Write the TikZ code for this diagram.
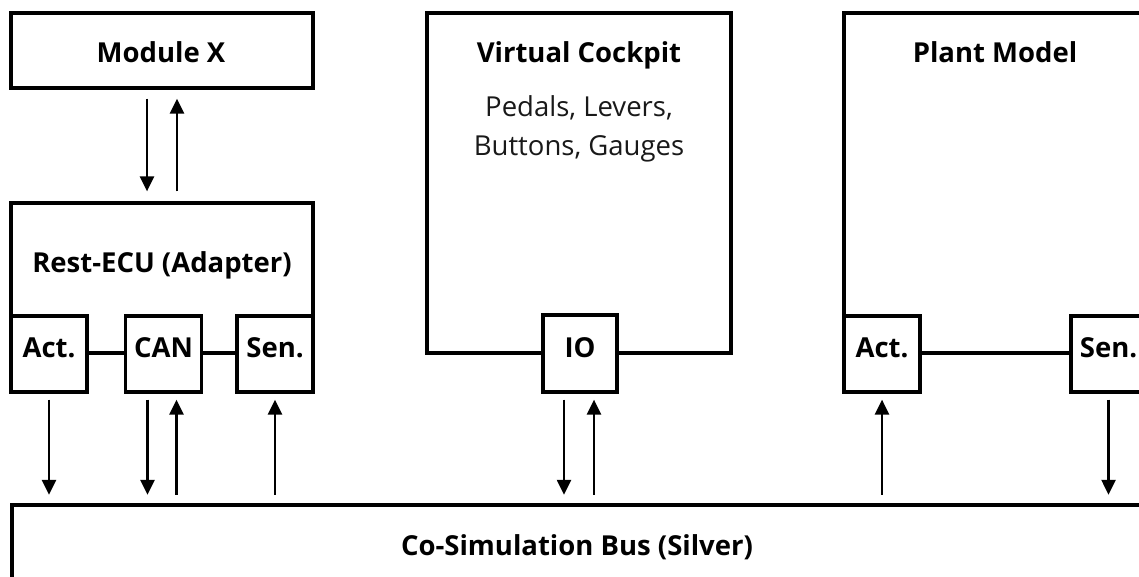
\documentclass[tikz,border=0pt]{standalone}
\usepackage{fontspec}
\setmainfont{Open Sans}
\usetikzlibrary{arrows.meta}
\begin{document}
\begin{tikzpicture}[x=1pt,y=-1pt,
  outerbox/.style={draw, line width=3.2pt, inner sep=0pt},
  subbox/.style={draw, line width=3.2pt, fill=white, inner sep=0pt, minimum width=76pt, minimum height=76pt, font=\fontsize{27.5}{30}\selectfont\bfseries, text height=0.714em, text depth=0pt},
  title/.style={font=\fontsize{27.5}{30}\selectfont\bfseries, inner sep=0pt, anchor=base},
  body/.style={font=\fontsize{27.5}{39}\selectfont, text=black!90, align=center, inner sep=0pt, anchor=base},
  link/.style={line width=2.4pt},
  arr/.style={line width=2.6pt, -{Triangle[width=14pt,length=15pt]}},
]
\clip (0,0) rectangle (1139,576);
\fill[white] (0,0) rectangle (1139,576);

% Module X
\node[outerbox, minimum width=302pt, minimum height=75pt] (modx) at (162,50.5) {};
\node[title] (modxtitle) at (161,62) {Module X};

% Rest-ECU
\node[outerbox, minimum width=302pt, minimum height=150pt] (rest) at (162,278) {};
\node[title] (resttitle) at (162,272) {Rest-ECU (Adapter)};
\node[subbox] (ract) at (49,354) {Act.};
\node[subbox] (rcan) at (163.5,354) {CAN};
\node[subbox] (rsen) at (275,354) {Sen.};
\draw[link] (ract) -- (rcan);
\draw[link] (rcan) -- (rsen);

% Virtual Cockpit
\node[outerbox, minimum width=304pt, minimum height=340pt] (vc) at (579,183) {};
\node[title] (vctitle) at (579,62) {Virtual Cockpit};
\node[body] (vcbody) at (579,155) {Pedals, Levers,\\Buttons, Gauges};
\node[subbox, minimum width=74pt, minimum height=77pt] (io) at (580,353.5) {IO};

% Plant Model
\node[outerbox, minimum width=302pt, minimum height=340pt] (plant) at (995,183) {};
\node[title] (planttitle) at (995,62) {Plant Model};
\node[subbox] (pact) at (882,354) {Act.};
\node[subbox, minimum width=75pt] (psen) at (1108.5,354) {Sen.};
\draw[link] (pact) -- (psen);

% Bus
\node[draw, line width=4.5pt, inner sep=0pt, minimum width=1131pt, minimum height=95pt] (bus) at (577.5,552.5) {};
\node[title] (bustitle) at (577,555) {Co-Simulation Bus (Silver)};

% Module X <-> Rest-ECU
\draw[arr, shorten <=9pt, shorten >=10pt] ([xshift=-15pt]modx.south) -- ([xshift=-15pt]modx.south |- rest.north);
\draw[arr, shorten <=10pt, shorten >=9pt] ([xshift=15pt]modx.south |- rest.north) -- ([xshift=15pt]modx.south);

% to / from bus
\draw[arr, shorten <=6pt, shorten >=8pt] (ract.south) -- (ract.south |- bus.north);
\draw[arr, shorten <=6pt, shorten >=8pt] ([xshift=-16pt]rcan.south) -- ([xshift=-16pt]rcan.south |- bus.north);
\draw[arr, shorten <=8pt, shorten >=6pt] ([xshift=13pt]rcan.south |- bus.north) -- ([xshift=13pt]rcan.south);
\draw[arr, shorten <=8pt, shorten >=6pt] (rsen.south |- bus.north) -- (rsen.south);
\draw[arr, shorten <=6pt, shorten >=8pt] ([xshift=-16pt]io.south) -- ([xshift=-16pt]io.south |- bus.north);
\draw[arr, shorten <=8pt, shorten >=6pt] ([xshift=14pt]io.south |- bus.north) -- ([xshift=14pt]io.south);
\draw[arr, shorten <=8pt, shorten >=6pt] (pact.south |- bus.north) -- (pact.south);
\draw[arr, shorten <=6pt, shorten >=8pt] (psen.south) -- (psen.south |- bus.north);
\end{tikzpicture}
\end{document}
